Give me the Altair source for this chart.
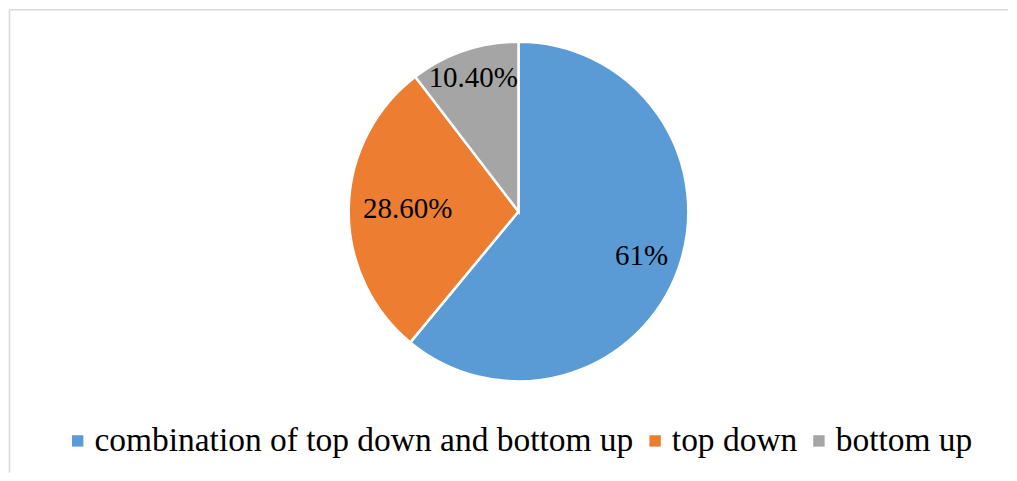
import altair as alt
import pandas as pd

categories = ["combination of top down and bottom up", "top down", "bottom up"]
values = [61, 28.6, 10.4]
labels = ["61%", "28.60%", "10.40%"]
colors = ["#5B9BD5", "#ED7D31", "#A5A5A5"]
order = [0, 1, 2]

df = pd.DataFrame({"category": categories, "value": values, "label": labels, "order": order})

W, H = 1000, 464
CX, CY, R = 510, 202.5, 170
label_radius = {"61%": 131, "28.60%": 111, "10.40%": 141}
FONT = "Liberation Serif"

base = (
    alt.Chart(df)
    .transform_window(cum="sum(value)", sort=[alt.SortField("order")], frame=[None, 0])
    .transform_joinaggregate(total="sum(value)")
    .transform_calculate(
        start="(datum.cum - datum.value) / datum.total * 2 * PI",
        end="datum.cum / datum.total * 2 * PI",
        mid="(datum.cum - datum.value / 2) / datum.total * 2 * PI",
    )
)

pie = base.mark_arc(radius=R, stroke="white", strokeWidth=2.5).encode(
    theta=alt.Theta("start:Q", scale=None),
    theta2="end:Q",
    x=alt.value(CX),
    y=alt.value(CY),
    color=alt.Color(
        "category:N",
        scale=alt.Scale(domain=categories, range=colors),
        legend=alt.Legend(
            title=None,
            orient="none",
            direction="horizontal",
            legendX=52,
            legendY=415,
            padding=0,
            offset=0,
            symbolType="square",
            symbolSize=130,
            symbolStrokeWidth=0,
            labelFont=FONT,
            labelFontSize=33.5,
            labelColor="#000000",
            labelOffset=0,
            columnPadding=4,
            labelLimit=1000,
        ),
    ),
)

texts = []
for lab in labels:
    texts.append(
        base.transform_filter(alt.datum.label == lab)
        .mark_text(font=FONT, fontSize=29, color="#000000", align="center", baseline="middle")
        .encode(
            theta=alt.Theta("mid:Q", scale=None),
            radius=alt.value(label_radius[lab]),
            x=alt.value(CX),
            y=alt.value(CY),
            text="label:N",
        )
    )

frame_df = pd.DataFrame({"a": [0]})
top_line = alt.Chart(frame_df).mark_rule(color="#d9d9d9", strokeWidth=1.5).encode(
    x=alt.value(0.5), x2=alt.value(W), y=alt.value(0.5)
)
left_line = alt.Chart(frame_df).mark_rule(color="#d9d9d9", strokeWidth=1.5).encode(
    x=alt.value(0.5), y=alt.value(0.5), y2=alt.value(H)
)

chart = (
    alt.layer(top_line, left_line, pie, *texts)
    .properties(width=W, height=H, padding=0, background="white")
    .configure_view(stroke=None)
)

chart.save("out.html", embed_options={"renderer": "svg", "actions": False})
